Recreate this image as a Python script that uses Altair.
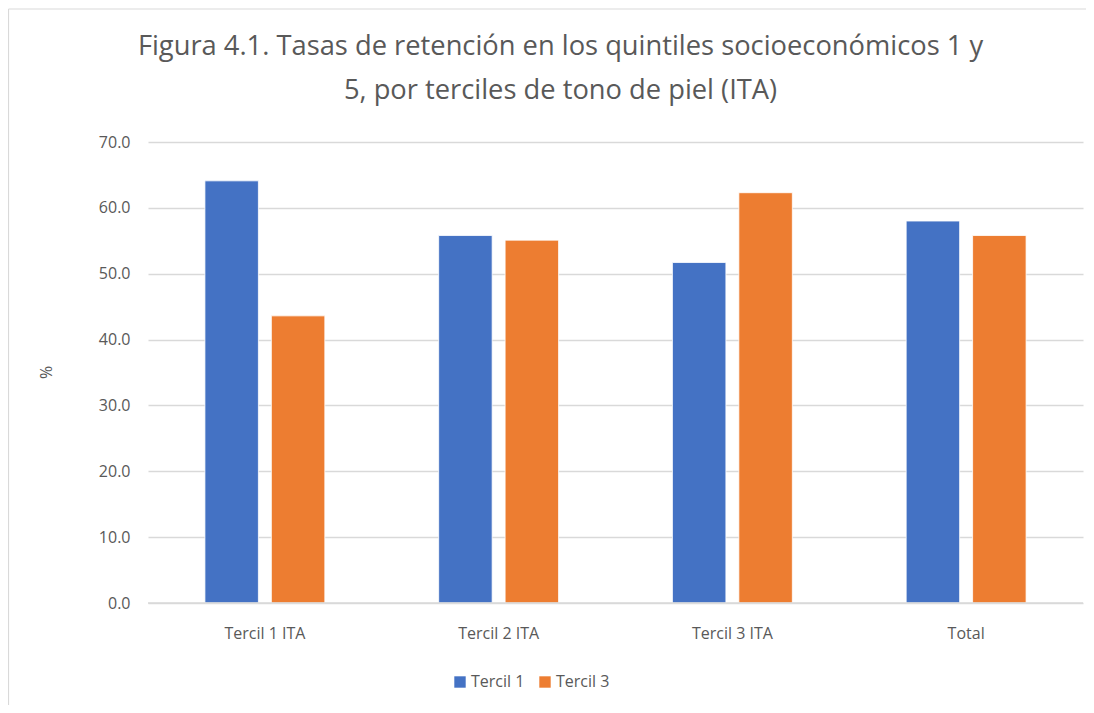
import altair as alt
import pandas as pd

categories = ["Tercil 1 ITA", "Tercil 2 ITA", "Tercil 3 ITA", "Total"]
series = ["Tercil 1", "Tercil 3"]
tercil1 = [64.1, 55.8, 51.7, 58.0]
tercil3 = [43.6, 55.1, 62.3, 55.8]
colors = ["#4472C4", "#ED7D31"]

rows = []
for i, c in enumerate(categories):
    rows.append({"cat": c, "serie": series[0], "val": tercil1[i]})
    rows.append({"cat": c, "serie": series[1], "val": tercil3[i]})
df = pd.DataFrame(rows)

FONT = "Open Sans"
GRAY = "#595959"

bars = alt.Chart(df).mark_bar(stroke="white", strokeWidth=0.8).encode(
    x=alt.X("cat:N", sort=categories, title=None,
            scale=alt.Scale(paddingInner=0.487, paddingOuter=0.2435),
            axis=alt.Axis(labelAngle=0, ticks=False, domain=False, labelPadding=22,
                          labelFontSize=16, labelColor=GRAY, labelFont=FONT, grid=False)),
    xOffset=alt.XOffset("serie:N", sort=series, scale=alt.Scale(paddingInner=0.195, paddingOuter=0)),
    y=alt.Y("val:Q", title="%",
            scale=alt.Scale(domain=[0, 70], nice=False),
            axis=alt.Axis(values=[0, 10, 20, 30, 40, 50, 60, 70], format=".1f",
                          ticks=False, domain=False, labelPadding=18,
                          labelFontSize=16, labelColor=GRAY, labelFont=FONT,
                          gridColor="#D9D9D9", gridWidth=1.3,
                          titleFontSize=16, titleColor=GRAY, titleFont=FONT, titleFontWeight="normal",
                          titleX=-102, titleY=230, titleAlign="center", titleBaseline="middle")),
    color=alt.Color("serie:N", sort=series,
                    scale=alt.Scale(domain=series, range=colors),
                    legend=alt.Legend(title=None, orient="none", direction="horizontal",
                                      legendX=304, legendY=532, symbolType="square",
                                      symbolSize=130, symbolStrokeWidth=0,
                                      labelFontSize=16, labelColor=GRAY, labelFont=FONT,
                                      columnPadding=12, labelOffset=3)),
)

zero = alt.Chart(pd.DataFrame({"v": [0]})).mark_rule(color="#D9D9D9", strokeWidth=1.5).encode(y="v:Q")

border_left = alt.Chart(pd.DataFrame({"v": [0]})).mark_rule(color="#D9D9D9", strokeWidth=1.2).encode(
    x=alt.value(-139.5), y=alt.value(-133), y2=alt.value(640))
border_top = alt.Chart(pd.DataFrame({"v": [0]})).mark_rule(color="#D9D9D9", strokeWidth=1.2).encode(
    x=alt.value(-139.5), x2=alt.value(1000), y=alt.value(-133))

chart = alt.layer(bars, zero, border_left, border_top).properties(
    width=935, height=461,
    autosize=alt.AutoSizeParams(type="none"),
    padding={"left": 140, "top": 134, "right": 3, "bottom": 102},
    title=alt.TitleParams(
        ["Figura 4.1. Tasas de retención en los quintiles socioeconómicos 1 y",
         "5, por terciles de tono de piel (ITA)"],
        fontSize=27.3, font=FONT, fontWeight="normal", color=GRAY,
        anchor="middle", frame="group", dx=-55, offset=28, dy=124, lineHeight=44),
).configure_view(strokeWidth=0, stroke=None)

chart.save("out.html", embed_options={"renderer": "svg", "actions": False})
